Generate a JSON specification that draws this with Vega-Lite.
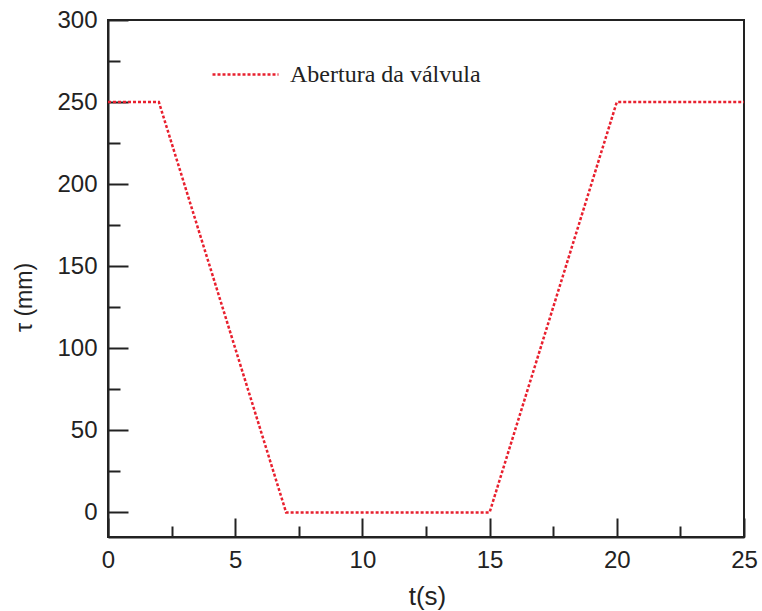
{
  "$schema": "https://vega.github.io/schema/vega-lite/v6.json",
  "width": 636,
  "height": 517,
  "autosize": "none",
  "padding": {"left": 108, "top": 20, "right": 18, "bottom": 74},
  "background": "white",
  "config": {
    "view": {"stroke": "#222222", "strokeWidth": 2},
    "axis": {
      "grid": false,
      "domainColor": "#222222",
      "domainWidth": 2,
      "tickColor": "#222222",
      "tickWidth": 2,
      "labelFont": "Liberation Sans",
      "labelFontSize": 24,
      "labelColor": "#222222",
      "labelFlush": false,
      "titleFont": "Liberation Sans",
      "titleFontSize": 24,
      "titleFontWeight": "normal",
      "titleColor": "#222222"
    }
  },
  "data": {
    "values": [
      {"t": 0, "tau": 250},
      {"t": 2, "tau": 250},
      {"t": 7, "tau": 0},
      {"t": 15, "tau": 0},
      {"t": 20, "tau": 250},
      {"t": 25, "tau": 250}
    ]
  },
  "layer": [
    {
      "mark": {"type": "line", "strokeDash": [3, 2], "strokeWidth": 2.5},
      "encoding": {
        "x": {
          "field": "t", "type": "quantitative",
          "scale": {"domain": [0, 25], "nice": false, "zero": false},
          "axis": {"orient": "bottom", "values": [0, 5, 10, 15, 20, 25], "tickSize": -19, "labelPadding": 30, "labelFlush": false, "title": "t(s)", "titleFontSize": 26, "titleX": 319, "titleY": 59, "titleBaseline": "middle", "titleAlign": "center"}
        },
        "y": {
          "field": "tau", "type": "quantitative",
          "scale": {"domain": [-15, 300], "nice": false, "zero": false},
          "axis": {"orient": "left", "values": [0, 50, 100, 150, 200, 250, 300], "tickSize": -20, "labelPadding": 31, "labelFlush": false, "title": "τ (mm)", "titleFontSize": 23, "titleX": -84, "titleY": 277, "titleAngle": -90, "titleBaseline": "middle", "titleAlign": "center"}
        },
        "color": {
          "datum": "Abertura da válvula",
          "scale": {"range": ["#e8202e"]},
          "legend": {
            "title": null,
            "orient": "none",
            "legendX": 103,
            "legendY": 20,
            "padding": 0,
            "symbolType": "stroke",
            "symbolSize": 4356,
            "symbolStrokeWidth": 2.5,
            "symbolDash": [3, 2],
            "labelFont": "Liberation Serif",
            "labelFontSize": 24,
            "labelColor": "#222222",
            "labelOffset": 10,
            "labelLimit": 0
          }
        }
      }
    },
    {
      "mark": {"type": "line", "strokeOpacity": 0},
      "encoding": {
        "x": {
          "field": "t", "type": "quantitative",
          "axis": {"orient": "bottom", "values": [2.5, 7.5, 12.5, 17.5, 22.5], "tickSize": -11, "labels": false, "domain": false, "title": null}
        },
        "y": {
          "field": "tau", "type": "quantitative",
          "axis": {"orient": "left", "values": [25, 75, 125, 175, 225, 275], "tickSize": -12, "labels": false, "domain": false, "title": null}
        }
      }
    }
  ],
  "resolve": {"axis": {"x": "independent", "y": "independent"}}
}
